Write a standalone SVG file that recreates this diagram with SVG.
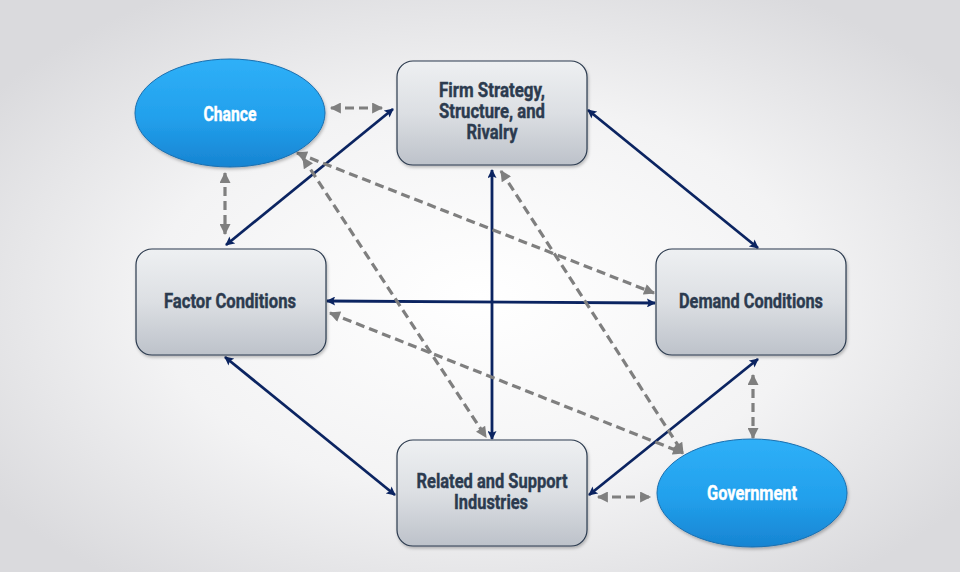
<svg xmlns="http://www.w3.org/2000/svg" width="960" height="572" viewBox="0 0 960 572">
<defs>
<radialGradient id="bg" cx="0.5" cy="0.52" r="0.62">
<stop offset="0" stop-color="#ffffff"/>
<stop offset="0.55" stop-color="#f3f3f4"/>
<stop offset="1" stop-color="#dadadd"/>
</radialGradient>
<linearGradient id="boxg" x1="0" y1="0" x2="0" y2="1">
<stop offset="0" stop-color="#eef0f2"/>
<stop offset="0.5" stop-color="#dcdfe3"/>
<stop offset="1" stop-color="#bdc2ca"/>
</linearGradient>
<linearGradient id="ellg" x1="0" y1="0" x2="0" y2="1">
<stop offset="0" stop-color="#2fb0f8"/>
<stop offset="0.55" stop-color="#22a0ec"/>
<stop offset="1" stop-color="#1784d2"/>
</linearGradient>
<filter id="sh" x="-10%" y="-10%" width="120%" height="125%">
<feDropShadow dx="1" dy="2" stdDeviation="1.5" flood-color="#000" flood-opacity="0.25"/>
</filter>
<marker id="an" viewBox="0 0 10 10" refX="9" refY="5" markerWidth="10" markerHeight="9" markerUnits="userSpaceOnUse" orient="auto-start-reverse">
<path d="M0,0 L10,5 L0,10 L2,5 Z" fill="#0b2461"/>
</marker>
<marker id="ag" viewBox="0 0 10 10" refX="9" refY="5" markerWidth="12" markerHeight="11" markerUnits="userSpaceOnUse" orient="auto-start-reverse">
<path d="M0,0 L10,5 L0,10 Z" fill="#7f7f7f"/>
</marker>
<style>
.box{fill:url(#boxg);stroke:#2b3a4e;stroke-width:1.2;filter:url(#sh)}
.ell{fill:url(#ellg);stroke:#1c6fae;stroke-width:1;filter:url(#sh)}
.bt{font-family:Roboto,"Liberation Sans",sans-serif;font-weight:bold;font-size:19.5px;fill:#2c3b4f;stroke:#2c3b4f;stroke-width:0.4;text-anchor:middle}
.et{font-family:Roboto,"Liberation Sans",sans-serif;font-weight:bold;font-size:19.5px;fill:#ffffff;stroke:#ffffff;stroke-width:0.4;text-anchor:middle}
.n{stroke:#0b2461;stroke-width:2.8;fill:none;marker-start:url(#an);marker-end:url(#an)}
.d{stroke:#7f7f7f;stroke-width:3.2;fill:none;stroke-dasharray:9 5;marker-start:url(#ag);marker-end:url(#ag)}
</style>
</defs>
<rect width="960" height="572" fill="url(#bg)"/>
<g id="connectors">
<line class="n" x1="226" y1="245" x2="393" y2="109"/>
<line class="n" x1="588" y1="110" x2="758" y2="248"/>
<line class="n" x1="327" y1="301" x2="655" y2="303"/>
<line class="n" x1="492" y1="170" x2="492" y2="439"/>
<line class="n" x1="225" y1="357" x2="395" y2="495"/>
<line class="n" x1="758" y1="359" x2="589" y2="495"/>
<line class="d" x1="331" y1="108" x2="382" y2="108"/>
<line class="d" x1="225" y1="173" x2="225" y2="234"/>
<line class="d" x1="753" y1="375" x2="753" y2="438"/>
<line class="d" x1="598" y1="497" x2="650" y2="497"/>
<line class="d" x1="297" y1="153" x2="654" y2="293"/>
<line class="d" x1="303" y1="158" x2="486" y2="437"/>
<line class="d" x1="501" y1="171" x2="683" y2="453"/>
<line class="d" x1="330" y1="313" x2="683" y2="453"/>
</g>
<g id="chance">
<ellipse class="ell" cx="230" cy="113" rx="95" ry="54"/>
<text class="et" x="230" y="121" textLength="53" lengthAdjust="spacingAndGlyphs">Chance</text>
</g>
<g id="firm">
<rect class="box" x="397" y="61" width="190" height="104" rx="16"/>
<text class="bt" x="492" y="97" textLength="106" lengthAdjust="spacingAndGlyphs">Firm Strategy,</text>
<text class="bt" x="492" y="118" textLength="106" lengthAdjust="spacingAndGlyphs">Structure, and</text>
<text class="bt" x="492" y="139" textLength="51" lengthAdjust="spacingAndGlyphs">Rivalry</text>
</g>
<g id="factor">
<rect class="box" x="136" y="249" width="190" height="106" rx="16"/>
<text class="bt" x="230" y="308" textLength="132" lengthAdjust="spacingAndGlyphs">Factor Conditions</text>
</g>
<g id="demand">
<rect class="box" x="656" y="249" width="190" height="106" rx="16"/>
<text class="bt" x="751" y="308" textLength="144" lengthAdjust="spacingAndGlyphs">Demand Conditions</text>
</g>
<g id="related">
<rect class="box" x="397" y="440" width="190" height="106" rx="16"/>
<text class="bt" x="492" y="488" textLength="151" lengthAdjust="spacingAndGlyphs">Related and Support</text>
<text class="bt" x="491" y="509" textLength="74" lengthAdjust="spacingAndGlyphs">Industries</text>
</g>
<g id="government">
<ellipse class="ell" cx="752" cy="493" rx="95" ry="54"/>
<text class="et" x="752" y="500" textLength="90" lengthAdjust="spacingAndGlyphs">Government</text>
</g>
</svg>
